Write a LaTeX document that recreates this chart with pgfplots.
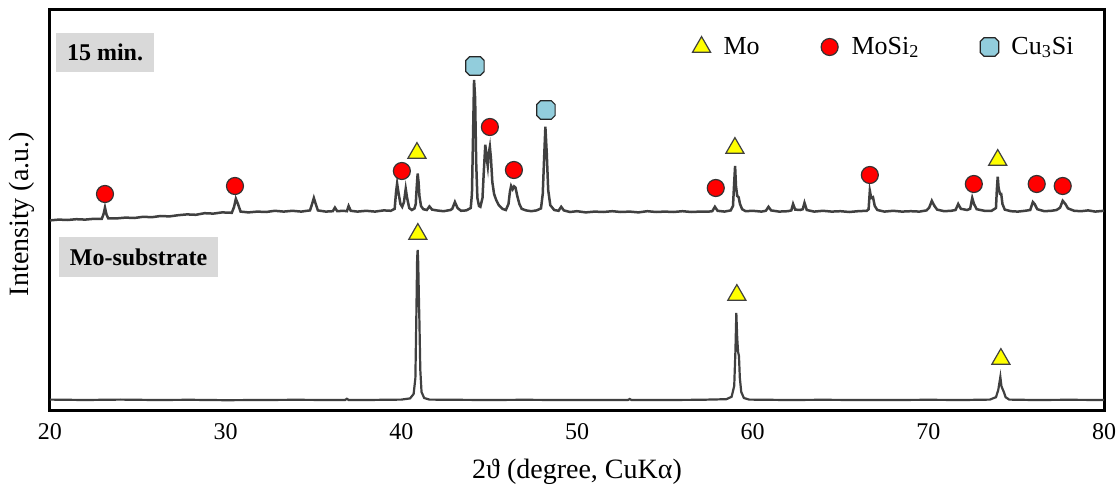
\documentclass[border=0pt]{standalone}
\usepackage{fontspec}
\setmainfont{Liberation Serif}
\usepackage{pgfplots}
\pgfplotsset{compat=1.18}
\definecolor{trace}{HTML}{404040}
\definecolor{boxgray}{HTML}{D9D9D9}
\definecolor{cublue}{HTML}{92CDDC}
\definecolor{moyel}{HTML}{FFFF00}
\definecolor{sired}{HTML}{FF0000}
\pgfdeclareplotmark{octagon*}{%
  \pgfpathmoveto{\pgfpoint{\pgfplotmarksize}{0.6\pgfplotmarksize}}%
  \pgfpathlineto{\pgfpoint{0.6\pgfplotmarksize}{\pgfplotmarksize}}%
  \pgfpathlineto{\pgfpoint{-0.6\pgfplotmarksize}{\pgfplotmarksize}}%
  \pgfpathlineto{\pgfpoint{-\pgfplotmarksize}{0.6\pgfplotmarksize}}%
  \pgfpathlineto{\pgfpoint{-\pgfplotmarksize}{-0.6\pgfplotmarksize}}%
  \pgfpathlineto{\pgfpoint{-0.6\pgfplotmarksize}{-\pgfplotmarksize}}%
  \pgfpathlineto{\pgfpoint{0.6\pgfplotmarksize}{-\pgfplotmarksize}}%
  \pgfpathlineto{\pgfpoint{\pgfplotmarksize}{-0.6\pgfplotmarksize}}%
  \pgfpathclose
  \pgfusepathqfillstroke
}
\begin{document}
\begin{tikzpicture}
\useasboundingbox (-25bp,-38bp) rectangle (534bp,205bp);
\begin{axis}[
  scale only axis, width=527bp, height=200bp,
  xmin=20, xmax=80, ymin=0, ymax=100,
  clip=false,
  axis line style={line width=1.5bp},
  xtick={20,30,40,50,60,70,80}, ytick=\empty,
  major tick length=0pt,
  /pgf/number format/assume math mode=true,
  xticklabel style={font=\fontsize{12bp}{14bp}\selectfont, yshift=-3bp},
  xlabel={2ϑ (degree, CuKα)},
  ylabel={Intensity (a.u.)},
  xlabel style={font=\fontsize{14bp}{16bp}\selectfont, at={(axis description cs:0.5,-0.155)}, anchor=center},
  ylabel style={font=\fontsize{14bp}{16bp}\selectfont, at={(axis description cs:-0.0266,0.49)}, anchor=center},
  legend style={draw=none, fill=none, at={(axis description cs:0.981,0.9075)}, anchor=east,
    font=\fontsize{13bp}{15bp}\selectfont, legend columns=3,
    /tikz/every even column/.append style={column sep=27bp}},
  legend image code/.code={\path[draw=none,fill=none] (-6bp,0bp) -- (9bp,0bp); \path[#1] plot[only marks] coordinates {(0bp,0bp)};},
  legend cell align=left,
]
% 15 min. trace
\addplot[trace, line width=1.25bp, forget plot] table {
20.0 47.4
20.5 47.6
21.0 47.5
21.5 47.7
22.0 47.6
22.5 47.8
22.95 47.8
23.05 49.0
23.13 50.6
23.22 48.8
23.32 47.9
23.8 47.9
24.3 48.1
24.8 48.0
25.3 48.3
25.8 48.2
26.3 48.5
26.8 48.4
27.3 48.7
27.8 48.9
28.3 48.8
28.8 49.2
29.3 49.1
29.8 49.4
30.35 49.3
30.48 50.8
30.58 52.8
30.7 51.5
30.85 49.6
31.3 49.4
31.8 49.6
32.3 49.5
32.8 49.8
33.3 49.6
33.8 49.8
34.3 49.6
34.8 49.9
34.92 51.5
35.02 53.0
35.12 51.6
35.25 49.9
35.7 49.6
36.1 49.7
36.22 50.6
36.35 49.7
36.7 49.8
36.9 49.7
37.0 51.0
37.12 49.8
37.5 49.6
38.0 49.8
38.5 49.6
39.0 49.9
39.4 49.8
39.62 50.3
39.7 54.5
39.76 56.6
39.85 54.0
39.95 51.5
40.05 50.8
40.15 52.0
40.25 55.3
40.33 53.0
40.45 50.5
40.6 50.0
40.75 50.4
40.82 51.5
40.88 56.0
40.93 59.1
40.98 57.0
41.03 53.5
41.12 51.0
41.25 50.2
41.45 50.0
41.6 50.9
41.75 50.1
42.0 49.9
42.4 49.7
42.8 50.0
42.9 50.3
43.05 52.0
43.2 50.5
43.4 49.8
43.7 49.9
43.95 50.5
44.02 54.0
44.08 68.0
44.14 82.5
44.2 78.0
44.26 62.0
44.33 53.0
44.42 51.0
44.5 50.8
44.62 53.0
44.7 60.0
44.78 66.3
44.86 63.0
44.92 61.0
44.97 64.0
45.04 65.8
45.1 63.0
45.18 57.0
45.28 54.0
45.4 52.5
45.55 51.2
45.75 50.3
45.95 50.0
46.1 51.5
46.18 54.5
46.25 56.0
46.34 55.2
46.42 55.9
46.5 55.6
46.6 53.5
46.72 51.5
46.85 50.3
47.1 49.9
47.4 49.7
47.7 49.9
47.95 50.4
48.05 54.0
48.12 62.0
48.2 70.8
48.28 64.0
48.36 55.0
48.48 51.2
48.7 50.0
48.95 49.8
49.1 50.8
49.25 49.9
49.6 49.5
50.0 49.7
50.5 49.4
51.0 49.6
51.5 49.5
52.0 49.7
52.5 49.5
53.0 49.6
53.5 49.4
54.0 49.7
54.5 49.5
55.0 49.6
55.5 49.5
56.0 49.7
56.5 49.5
57.0 49.6
57.5 49.6
57.7 49.7
57.85 50.8
58.0 49.8
58.4 49.6
58.75 49.9
58.88 51.0
58.95 57.0
59.0 61.0
59.05 56.0
59.12 53.5
59.2 53.2
59.28 51.5
59.4 50.2
59.6 49.7
60.0 49.8
60.5 49.6
60.75 49.8
60.9 50.8
61.05 49.9
61.5 49.6
62.0 49.7
62.2 49.9
62.3 51.5
62.42 50.1
62.7 50.0
62.85 50.2
62.95 51.8
63.08 50.0
63.5 49.6
64.0 49.8
64.5 49.6
65.0 49.7
65.5 49.5
66.0 49.7
66.5 49.8
66.6 50.2
66.67 54.8
66.75 53.0
66.85 53.2
66.95 51.0
67.1 50.0
67.5 49.6
68.0 49.8
68.5 49.6
69.0 49.7
69.5 49.6
69.9 49.9
70.05 50.6
70.2 52.3
70.35 51.0
70.5 50.1
70.9 49.7
71.3 49.8
71.55 50.0
71.7 51.5
71.85 50.3
72.2 50.0
72.38 50.3
72.5 53.0
72.6 51.5
72.75 50.2
73.2 49.8
73.6 49.8
73.85 50.5
73.9 55.0
73.95 58.3
74.0 55.5
74.08 54.0
74.15 54.0
74.22 51.5
74.35 50.1
74.7 49.7
75.1 49.6
75.5 49.8
75.8 50.0
75.95 52.0
76.05 51.5
76.2 50.2
76.6 49.7
77.0 49.8
77.3 50.0
77.5 50.6
77.65 52.3
77.8 51.5
77.95 50.4
78.3 49.8
78.7 49.7
79.1 49.9
79.5 49.6
80.0 49.8
};
% Mo-substrate trace
\addplot[trace, line width=1.1bp, forget plot] table {
20 2.6
22 2.5
24 2.6
26 2.5
28 2.55
30 2.45
32 2.5
34 2.55
36 2.5
36.8 2.5
36.9 2.8
37.0 2.5
38 2.5
39 2.55
40 2.6
40.5 2.9
40.7 4.0
40.8 8.0
40.86 25.0
40.9 38.0
40.93 40.0
40.96 37.0
41.0 28.0
41.03 22.0
41.08 10.0
41.15 4.5
41.3 3.0
41.6 2.6
43 2.55
45 2.5
47 2.55
49 2.5
51 2.5
52.9 2.5
53.0 2.75
53.1 2.5
55 2.5
57 2.55
58.5 2.7
58.8 3.3
58.95 6.0
59.02 15.0
59.07 24.25
59.12 18.0
59.17 14.5
59.22 13.5
59.27 8.0
59.35 4.5
59.5 3.0
59.8 2.6
62 2.5
64 2.55
66 2.5
68 2.5
70 2.55
72 2.5
73.5 2.6
73.85 3.2
73.98 5.0
74.1 8.25
74.16 6.0
74.22 5.3
74.3 4.5
74.4 3.2
74.6 2.6
76 2.5
78 2.55
80 2.5
};
% Mo markers
\addplot[only marks, mark=triangle*, mark size=5.2bp,
  mark options={fill=moyel, draw=black!75, line width=0.6bp}] table {
40.89 64.25
58.99 65.5
73.95 62.5
40.94 44.0
59.1 28.75
74.13 12.75
};
\addlegendentry{Mo}
% MoSi2 markers
\addplot[only marks, mark=*, mark size=4.25bp,
  mark options={fill=sired, draw=black!80, line width=0.6bp}] table {
23.13 54.0
30.53 56.0
40.03 59.75
45.04 70.75
46.41 60.0
57.9 55.5
66.67 58.75
72.59 56.5
76.17 56.5
77.65 56.0
};
\addlegendentry{MoSi\textsubscript{2}}
% Cu3Si markers
\addplot[only marks, mark=octagon*, mark size=4.6bp,
  mark options={fill=cublue, draw=black!85, line width=0.6bp}] table {
44.19 86.0
48.23 75.0
};
\addlegendentry{Cu\textsubscript{3}Si}
\node[fill=boxgray, font=\fontsize{12bp}{14bp}\selectfont\bfseries, minimum width=49bp, minimum height=19.5bp, inner sep=0pt]
  at (axis description cs:0.0522,0.894) {15 min.};
\node[fill=boxgray, font=\fontsize{12bp}{14bp}\selectfont\bfseries, minimum width=79.5bp, minimum height=20bp, inner sep=0pt]
  at (axis description cs:0.084,0.3825) {Mo-substrate};
\end{axis}
\end{tikzpicture}
\end{document}
